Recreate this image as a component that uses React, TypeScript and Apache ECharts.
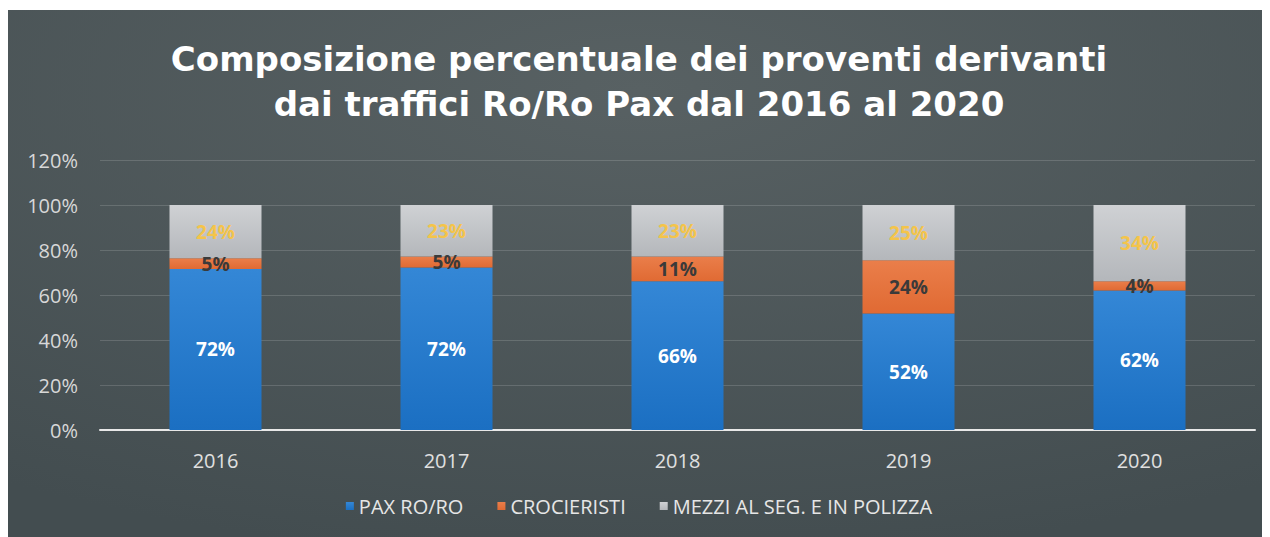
import React, { useEffect, useRef } from "react";
import * as echarts from "echarts";

const years = ["2016", "2017", "2018", "2019", "2020"];
const paxRoRo = [71.6, 72.2, 66.1, 51.8, 62.0];
const crocieristi = [4.7, 4.9, 11.0, 23.6, 4.1];
const mezzi = [23.7, 22.9, 22.9, 24.6, 33.9];
const yTicks = [0, 20, 40, 60, 80, 100, 120];
const seriesNames = ["PAX RO/RO", "CROCIERISTI", "MEZZI AL SEG. E IN POLIZZA"];
const titleText = "Composizione percentuale dei proventi derivanti\ndai traffici Ro/Ro Pax dal 2016 al 2020";

export default function App() {
  const ref = useRef<HTMLDivElement>(null);
  useEffect(() => {
    if (!ref.current) return;
    const chart = echarts.init(ref.current, null, { renderer: "svg" });
    const lbl = (color: string) => ({
      show: true,
      position: "inside",
      color,
      fontFamily: "Open Sans",
      fontWeight: "bold",
      fontSize: 19,
      formatter: (p: any) => Math.round(p.value) + "%",
    });
    chart.setOption({
      animation: false,
      backgroundColor: {
        type: "radial",
        x: 0.5,
        y: 0.15,
        r: 0.9,
        colorStops: [
          { offset: 0, color: "#586163" },
          { offset: 1, color: "#434d50" },
        ],
      },
      title: {
        text: titleText,
        left: "center",
        top: 21,
        textStyle: {
          color: "#ffffff",
          fontFamily: "DejaVu Sans",
          fontWeight: "bold",
          fontSize: 34,
          lineHeight: 45,
        },
      },
      legend: {
        bottom: 16,
        left: "center",
        itemWidth: 8,
        itemHeight: 8,
        itemGap: 34,
        icon: "rect",
        textStyle: { color: "#e6e6e6", fontFamily: "Open Sans", fontSize: 20 },
        data: seriesNames,
      },
      grid: { left: 92, right: 15, top: 150, bottom: 107 },
      xAxis: {
        type: "category",
        data: years,
        axisLine: { lineStyle: { color: "#e8e8e8", width: 2 } },
        axisTick: { show: false },
        axisLabel: { color: "#e0e0e0", fontFamily: "Open Sans", fontSize: 20, margin: 20 },
      },
      yAxis: {
        type: "value",
        min: yTicks[0],
        max: yTicks[yTicks.length - 1],
        interval: 20,
        axisLabel: {
          color: "#d8d8d8",
          fontFamily: "Open Sans",
          fontSize: 20,
          margin: 22,
          formatter: (v: number) => v + "%",
        },
        splitLine: { lineStyle: { color: "rgba(255,255,255,0.15)", width: 1 } },
        axisLine: { show: false },
      },
      series: [
        {
          name: seriesNames[0],
          type: "bar",
          stack: "t",
          barWidth: 92,
          data: paxRoRo,
          itemStyle: {
            color: {
              type: "linear", x: 0, y: 0, x2: 0, y2: 1,
              colorStops: [
                { offset: 0, color: "#3487d6" },
                { offset: 1, color: "#1b6fc2" },
              ],
            },
          },
          label: lbl("#ffffff"),
        },
        {
          name: seriesNames[1],
          type: "bar",
          stack: "t",
          barWidth: 92,
          data: crocieristi,
          itemStyle: {
            color: {
              type: "linear", x: 0, y: 0, x2: 0, y2: 1,
              colorStops: [
                { offset: 0, color: "#ea7e4a" },
                { offset: 1, color: "#e06a33" },
              ],
            },
          },
          label: lbl("#3a3a3a"),
        },
        {
          name: seriesNames[2],
          type: "bar",
          stack: "t",
          barWidth: 92,
          data: mezzi,
          itemStyle: {
            color: {
              type: "linear", x: 0, y: 0, x2: 0, y2: 1,
              colorStops: [
                { offset: 0, color: "#cfd1d4" },
                { offset: 1, color: "#b4b7bb" },
              ],
            },
          },
          label: lbl("#f4c44a"),
        },
      ],
    });
    return () => chart.dispose();
  }, []);
  return <div ref={ref} style={{ width: 1262, height: 527, marginTop: 2 }} />;
}
